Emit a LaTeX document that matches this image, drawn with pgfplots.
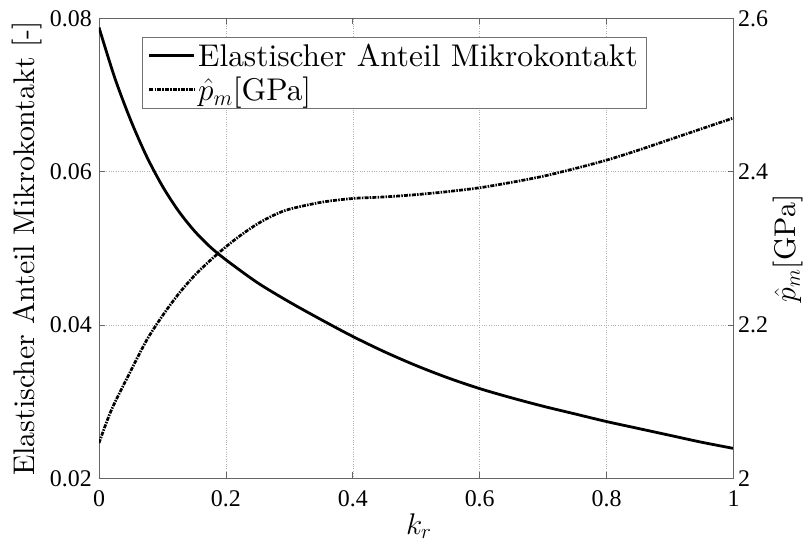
\RequirePackage{fix-cm}
\documentclass[border=0pt]{standalone}
\usepackage{fontspec}
\setmainfont{lmroman10-regular.otf}
\usepackage{pgfplots}
\pgfplotsset{compat=1.18}
\newfontfamily\timesfont{Liberation Serif}

\pgfplotstableread{
x y
0     0.0788
0.025 0.0722
0.05  0.0667
0.075 0.0620
0.1   0.0581
0.125 0.0549
0.15  0.0523
0.175 0.0502
0.2   0.0485
0.25  0.0455
0.3   0.0430
0.35  0.0407
0.4   0.0385
0.45  0.0365
0.5   0.0347
0.55  0.0331
0.6   0.0317
0.65  0.0305
0.7   0.0294
0.75  0.0284
0.8   0.0274
0.85  0.0265
0.9   0.0256
0.95  0.0247
1.0   0.0239
}\elastic

\pgfplotstableread{
x y
0     2.046
0.02  2.090
0.05  2.140
0.075 2.180
0.1   2.212
0.125 2.240
0.15  2.264
0.175 2.284
0.2   2.302
0.225 2.318
0.25  2.332
0.275 2.343
0.3   2.351
0.35  2.360
0.4   2.365
0.45  2.367
0.5   2.370
0.55  2.374
0.6   2.379
0.65  2.386
0.7   2.394
0.75  2.404
0.8   2.415
0.85  2.428
0.9   2.442
0.95  2.456
1.0   2.470
}\pressure

\pgfplotsset{
  common/.style={
    at={(0,0)}, anchor=south west,
    scale only axis, width=634.5bp, height=460bp,
    xmin=0, xmax=1,
    axis line style={black!60, line width=0.9bp},
    every tick/.style={black!60, line width=0.8bp},
    major tick length=6bp,
    tick align=inside,
    every tick label/.append style={font=\timesfont\fontsize{24}{24}\selectfont, inner sep=0pt},
    /pgf/number format/assume math mode=true,
    label style={font=\fontsize{30}{36}\selectfont, inner sep=0pt},
  },
  pdash/.style={black, line width=2.7bp, dash pattern=on 4bp off 1.2bp on 1.5bp off 1.2bp},
  psolid/.style={black, line width=2.8bp},
}

\begin{document}
\begin{tikzpicture}
\path[use as bounding box] (-99bp,-64bp) rectangle (707bp,478.3bp);
\begin{axis}[
  common,
  ymin=0.02, ymax=0.08,
  scaled y ticks=false,
  xtick={0,0.2,0.4,0.6,0.8,1},
  xticklabels={0,0.2,0.4,0.6,0.8,1},
  ytick={0.02,0.04,0.06,0.08},
  yticklabels={0.02,0.04,0.06,0.08},
  xtick pos=both, ytick pos=left,
  xticklabel style={anchor=north, yshift=-12bp},
  yticklabel style={anchor=east, xshift=-7bp},
  grid=major,
  major grid style={dotted, line width=0.6bp, black!30},
  xlabel={$k_r$},
  xlabel style={at={(axis description cs:0.504,-0.0761)}, anchor=north},
  ylabel={Elastischer Anteil Mikrokontakt [-]},
  ylabel style={at={(axis description cs:-0.0898,0.5)}, anchor=south, rotate=0},
  legend style={
    at={(0.0673,0.9587)}, anchor=north west,
    draw=black!55, line width=0.8bp, fill=white,
    font=\fontsize{31.5}{37}\selectfont,
    inner xsep=5.8bp, inner ysep=1bp,
    nodes={inner xsep=2.5bp, inner ysep=4.85bp},
    row sep=0pt, column sep=0pt,
    cells={anchor=west},
  },
  legend image code/.code={\draw[#1] (0bp,0bp) -- (45bp,0bp);},
]
\addplot[psolid, smooth] table[x=x,y=y] {\elastic};
\addlegendentry{Elastischer Anteil Mikrokontakt}
\addlegendimage{pdash}
\addlegendentry{$\hat{p}_m$[GPa]}
\end{axis}
\begin{axis}[
  common,
  ymin=2, ymax=2.6,
  axis y line*=right, axis x line=none,
  ytick={2,2.2,2.4,2.6},
  yticklabels={2,2.2,2.4,2.6},
  yticklabel style={anchor=west, xshift=4.5bp},
  ylabel={$\hat{p}_m$[GPa]},
  ylabel style={at={(axis description cs:1.1095,0.5)}, anchor=south, rotate=0},
]
\addplot[pdash, smooth] table[x=x,y=y] {\pressure};
\end{axis}
\end{tikzpicture}
\end{document}
